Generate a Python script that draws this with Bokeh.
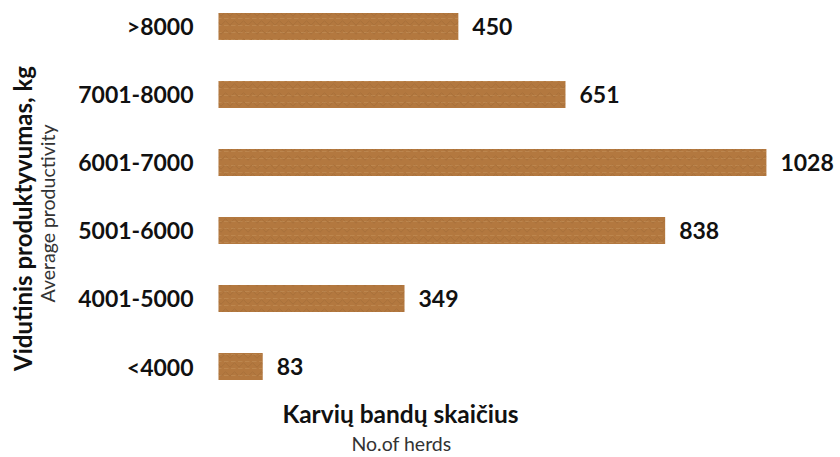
import math
from bokeh.plotting import figure
from bokeh.models import ColumnDataSource, Range1d, Label
from bokeh.core.properties import value
from bokeh.embed import file_html
from bokeh.resources import INLINE

# Data (top to bottom as in chart)
categories = [">8000", "7001-8000", "6001-7000", "5001-6000", "4001-5000", "<4000"]
herds = [450, 651, 1028, 838, 349, 83]
y_title = "Vidutinis produktyvumas, kg"
y_subtitle = "Average productivity"
x_title = "Karvių bandų skaičius"
x_subtitle = "No.of herds"

FONT = "Lato"
n = len(categories)
pos = [n - 1 - i for i in range(n)]
src = ColumnDataSource(dict(y=pos, v=herds, lab=[str(h) for h in herds],
                            cat=categories, zero=[0] * n))

p = figure(width=840, height=457, output_backend="svg", toolbar_location=None,
           x_range=Range1d(-409, 1167), y_range=Range1d(-1.338, 5.382),
           min_border=0)
p.outline_line_color = None
p.grid.visible = False
p.axis.visible = False

# wood-like bars: base fill + grain layers
p.hbar(y="y", right="v", left=0, height=0.397, source=src,
       fill_color="#B3783F", line_color=None,
       hatch_pattern="horizontal_wave", hatch_color="#7A4A22",
       hatch_alpha=0.2, hatch_scale=9, hatch_weight=1)
p.hbar(y="y", right="v", left=0, height=0.397, source=src,
       fill_alpha=0, line_color=None,
       hatch_pattern="horizontal_dash", hatch_color="#D9AE7C",
       hatch_alpha=0.25, hatch_scale=7, hatch_weight=1)

# value labels
p.text(x="v", y="y", text="lab", source=src, x_offset=14,
       text_align="left", text_baseline="middle",
       text_font=value(FONT), text_font_style="bold",
       text_font_size="23px", text_color="#111111")

# category labels
p.text(x="zero", y="y", text="cat", source=src, x_offset=-25,
       text_align="right", text_baseline="middle",
       text_font=value(FONT), text_font_style="bold",
       text_font_size="23px", text_color="#111111")

def lab(text, x, y, size, bold, angle=0.0):
    p.add_layout(Label(x=x, y=y, x_units="screen", y_units="screen", text=text,
                       angle=angle, text_align="center", text_baseline="middle",
                       text_font=FONT, text_font_size=size,
                       text_font_style="bold" if bold else "normal",
                       text_color="#111111" if bold else "#333333"))

lab(y_title, 22, 239, "24px", True, math.pi / 2)
lab(y_subtitle, 47, 244, "19.5px", False, math.pi / 2)
lab(x_title, 400, 44, "24.5px", True)
lab(x_subtitle, 401, 14, "19.5px", False)

open("out.html", "w").write(file_html(p, INLINE))
